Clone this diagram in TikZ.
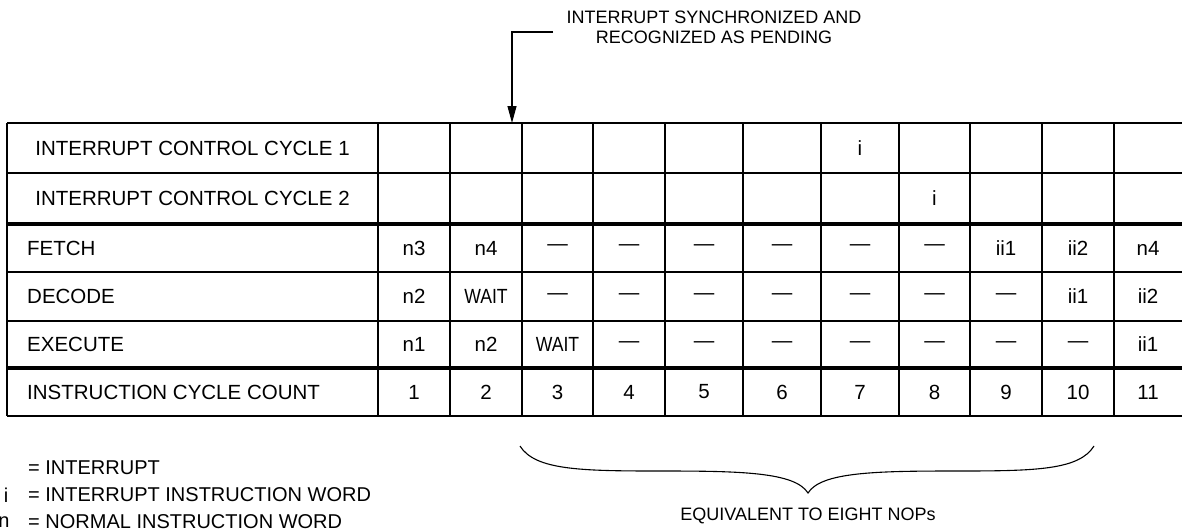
\documentclass[tikz,border=0pt]{standalone}
\usepackage{fontspec}
\setmainfont{Liberation Sans}
\usetikzlibrary{arrows.meta}
\newcommand{\waitcell}{\scalebox{0.86}[1]{WAIT}}
\begin{document}
\begin{tikzpicture}[x=1pt,y=-1pt,
  grid/.style={line width=1.1pt},
  sep/.style={line width=4pt},
  cell/.style={inner sep=0pt,font=\fontsize{20.5}{24}\selectfont},
  lbl/.style={cell,anchor=west},
  key/.style={inner sep=0pt,font=\fontsize{20}{24}\selectfont},
  note/.style={inner sep=0pt,align=center,font=\fontsize{18}{20}\selectfont}]
  \useasboundingbox (0,0) rectangle (1182,531);
  \foreach \y in {123,173,272,321,416} \draw[grid] (7,\y) -- (1182,\y);
  \foreach \y in {224,368} \draw[sep] (7,\y) -- (1182,\y);
  \foreach \x in {7,378,450,522,593,665,743,821,899,970,1042,1114}
    \draw[grid] (\x,123) -- (\x,416);
  \foreach \x [count=\c] in {414,486,557.5,629,704,782,860,934.5,1006,1078,1148}
    \coordinate (k\c) at (\x,0);
  \node[cell] (ic1) at (192.5,148) {INTERRUPT CONTROL CYCLE 1};
  \node[cell] (ic2) at (192.5,198.5) {INTERRUPT CONTROL CYCLE 2};
  \node[lbl] (fetch) at (27,248) {FETCH};
  \node[lbl] (decode) at (27,296.5) {DECODE};
  \node[lbl] (exec) at (27,344.5) {EXECUTE};
  \node[lbl] (count) at (27,392) {INSTRUCTION CYCLE COUNT};
  \node[cell] (ic1-7) at (k7 |- ic1) {i};
  \node[cell] (ic2-8) at (k8 |- ic2) {i};
  \foreach \r/\items in {fetch/{n3,n4,—,—,—,—,—,—,ii1,ii2,n4},
      decode/{n2,\waitcell,—,—,—,—,—,—,—,ii1,ii2},
      exec/{n1,n2,\waitcell,—,—,—,—,—,—,—,ii1},
      count/{1,2,3,4,5,6,7,8,9,10,11}}
    \foreach \t [count=\c] in \items
      \node[cell] (\r-\c) at (k\c |- \r) {\t};
  % pending note
  \node[note] (pend) at (714,27) {INTERRUPT SYNCHRONIZED AND\\RECOGNIZED AS PENDING};
  \coordinate (lead) at (553,32);
  \coordinate (hit) at (512,123);
  \draw[line width=1.1pt,-{Triangle[length=17pt,width=9pt]}] (lead) -| (hit);
  % brace over cycles 3 to 10
  \draw[line width=1.1pt] (520,446) .. controls (535,470) and (580,471) .. (660,471)
    .. controls (740,471) and (795,472) .. (808,493)
    .. controls (821,472) and (876,471) .. (956,471)
    .. controls (1036,471) and (1079,470) .. (1094,446);
  \node[note] (nops) at (808,516) {EQUIVALENT TO EIGHT NOPs};
  % legend
  \node[key,anchor=west] (k-int) at (28,468) {= INTERRUPT};
  \node[key] (s-ii) at (6,495) {i};
  \node[key,anchor=west] (k-ii) at (28,495) {= INTERRUPT INSTRUCTION WORD};
  \node[key] (s-n) at (4,522) {n};
  \node[key,anchor=west] (k-n) at (28,522) {= NORMAL INSTRUCTION WORD};
\end{tikzpicture}
\end{document}
